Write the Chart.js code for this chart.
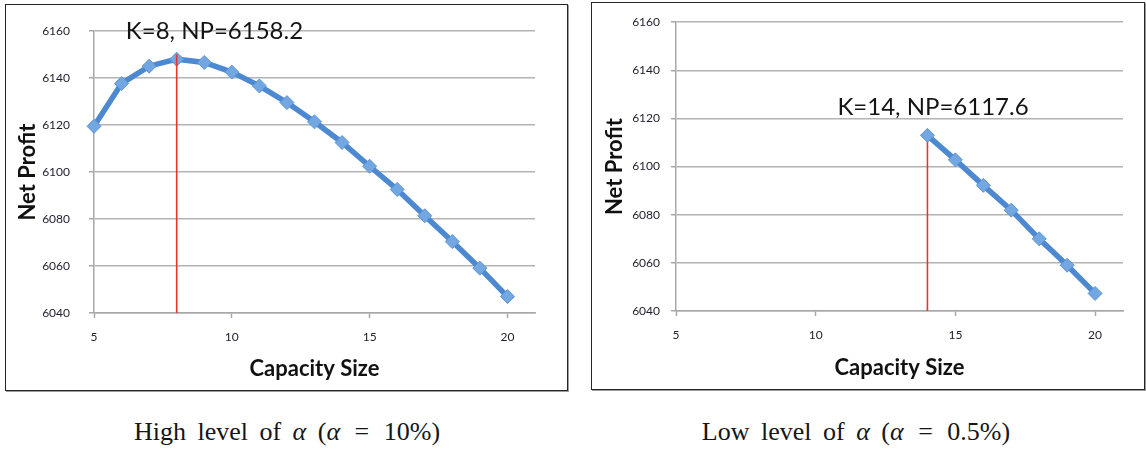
<!DOCTYPE html>
<html>
<head>
<meta charset="utf-8">
<script src="https://cdn.jsdelivr.net/npm/chart.js@4.4.1/dist/chart.umd.min.js"></script>
<style>
  html, body { margin: 0; padding: 0; background: #fff; width: 1146px; height: 457px; overflow: hidden; }
  .panel { position: absolute; box-sizing: border-box; border: 1.5px solid #262626; box-shadow: 1px 1px 0 #9c9c9c; }
  canvas { position: absolute; }
  .caption {
    position: absolute; top: 419px; line-height: 26px; white-space: nowrap;
    font-family: "Liberation Serif", "DejaVu Serif", serif; font-size: 26px; color: #161616;
    transform: translateX(-50%); word-spacing: 5px;
  }
  .caption i { font-style: italic; }
  .caption .eq { display: inline-block; margin: 0 3px; }
</style>
</head>
<body>
<div class="panel" style="left:5px;top:4px;width:563px;height:387px"></div>
<div class="panel" style="left:591px;top:2px;width:554px;height:388px"></div>
<canvas id="highAlpha" width="560" height="384" style="left:6px;top:5px"></canvas>
<canvas id="lowAlpha" width="549" height="383" style="left:593px;top:4px"></canvas>
<div class="caption" style="left:287px">High level of <i>α</i> (<i>α</i> <span class="eq">=</span> 10%)</div>
<div class="caption" style="left:856px">Low level of <i>α</i> (<i>α</i> <span class="eq">=</span> 0.5%)</div>

<script>
// Net profit by capacity size, high alpha (10%)
const capacityHigh = [5, 6, 7, 8, 9, 10, 11, 12, 13, 14, 15, 16, 17, 18, 19, 20];
const profitHigh = [6119.5, 6137.7, 6145.1, 6148.1, 6146.7, 6142.6, 6136.7, 6129.6,
                    6121.4, 6112.6, 6102.5, 6092.6, 6081.4, 6070.4, 6059.1, 6047.0];

// Net profit by capacity size, low alpha (0.5%)
const capacityLow = [14, 15, 16, 17, 18, 19, 20];
const profitLow = [6113.0, 6102.8, 6092.2, 6081.9, 6070.0, 6059.0, 6047.3];

// Optimal capacity marker lines (K, top of the drop line)
const optimumK = [8, 14];
const optimumLineTop = [6150.2, 6111.5];
const optimumLabels = ['K=8, NP=6158.2', 'K=14, NP=6117.6'];

// Axis ticks
const xTickValues = [5, 10, 15, 20];
const yTickValues = [6040, 6060, 6080, 6100, 6120, 6140, 6160];
const xTitle = 'Capacity Size';
const yTitle = 'Net Profit';

const GRID = '#b3b3b3';
const AXIS = '#a8a8a8';
const TICK_FONT = { family: 'Lato, "Liberation Sans", sans-serif', size: 12 };
const TITLE_FONT = { family: 'Lato, "Liberation Sans", sans-serif', size: 22, weight: 'bold' };

const notePlugin = {
  id: 'peakNote',
  afterDatasetsDraw(chart, args, opts) {
    const { ctx, scales: { x, y } } = chart;
    ctx.save();
    ctx.font = opts.font;
    ctx.fillStyle = opts.color;
    ctx.textAlign = 'center';
    ctx.textBaseline = 'alphabetic';
    ctx.fillText(opts.text, x.getPixelForValue(opts.x), y.getPixelForValue(opts.y));
    ctx.restore();
  }
};

function buildChart(id, xs, ys, idx, geo) {
  const points = xs.map((k, i) => ({ x: k, y: ys[i] }));
  const dropLine = [{ x: optimumK[idx], y: yTickValues[0] }, { x: optimumK[idx], y: optimumLineTop[idx] }];
  return new Chart(document.getElementById(id), {
    type: 'scatter',
    data: {
      datasets: [
        {
          data: points,
          showLine: true,
          borderColor: '#4d89d0',
          borderWidth: 5.5,
          pointStyle: 'rectRot',
          pointRadius: 7,
          pointBackgroundColor: '#72a7e2',
          pointBorderColor: '#5d95d6',
          pointBorderWidth: 1,
          clip: false,
          order: geo.lineOrder
        },
        {
          data: dropLine,
          showLine: true,
          borderColor: '#e8352c',
          borderWidth: 1.6,
          pointRadius: 0,
          clip: false,
          order: 1
        }
      ]
    },
    options: {
      responsive: false,
      animation: false,
      events: [],
      layout: { padding: { left: 0, top: geo.top, right: geo.right, bottom: 0 } },
      plugins: {
        legend: { display: false },
        tooltip: { enabled: false },
        peakNote: {
          text: optimumLabels[idx],
          x: geo.noteX,
          y: geo.noteY,
          font: '24px Lato, "Liberation Sans", sans-serif',
          color: '#141414'
        }
      },
      scales: {
        x: {
          type: 'linear',
          min: 5,
          max: 21,
          afterBuildTicks: (s) => { s.ticks = xTickValues.map(v => ({ value: v })); },
          afterFit: (s) => { s.height = geo.xAxisH; },
          grid: { drawOnChartArea: false, drawTicks: true, tickLength: 5, tickColor: AXIS, tickWidth: 1.5 },
          border: { color: AXIS, width: 1.5 },
          ticks: { font: TICK_FONT, color: '#1d1d2b', padding: 12, maxRotation: 0, callback: (v) => String(v) },
          title: { display: true, text: xTitle, font: TITLE_FONT, color: '#111', padding: { top: 4, bottom: geo.xTitlePad } }
        },
        y: {
          type: 'linear',
          min: 6040,
          max: 6160,
          afterBuildTicks: (s) => { s.ticks = yTickValues.map(v => ({ value: v })); },
          afterFit: (s) => { s.width = geo.yAxisW; },
          grid: { color: GRID, lineWidth: 1.5, tickLength: 5, tickColor: AXIS, tickWidth: 1.5 },
          border: { color: AXIS, width: 1.5 },
          ticks: { font: TICK_FONT, color: '#1d1d2b', padding: geo.yTickPad, callback: (v) => String(v) },
          title: { display: true, text: yTitle, font: TITLE_FONT, color: '#111', padding: { top: 9, bottom: 0 } }
        }
      }
    },
    plugins: [notePlugin]
  });
}

buildChart('highAlpha', capacityHigh, profitHigh, 0, {
  top: 21, right: 31, yAxisW: 88, xAxisH: 76, xTitlePad: 7, yTickPad: 19,
  noteX: 9.37, noteY: 6156.5, lineOrder: 2
});
buildChart('lowAlpha', capacityLow, profitLow, 1, {
  top: 17, right: 19, yAxisW: 83, xAxisH: 76, xTitlePad: 6, yTickPad: 11,
  noteX: 14.2, noteY: 6121.4, lineOrder: 0
});
</script>
</body>
</html>
